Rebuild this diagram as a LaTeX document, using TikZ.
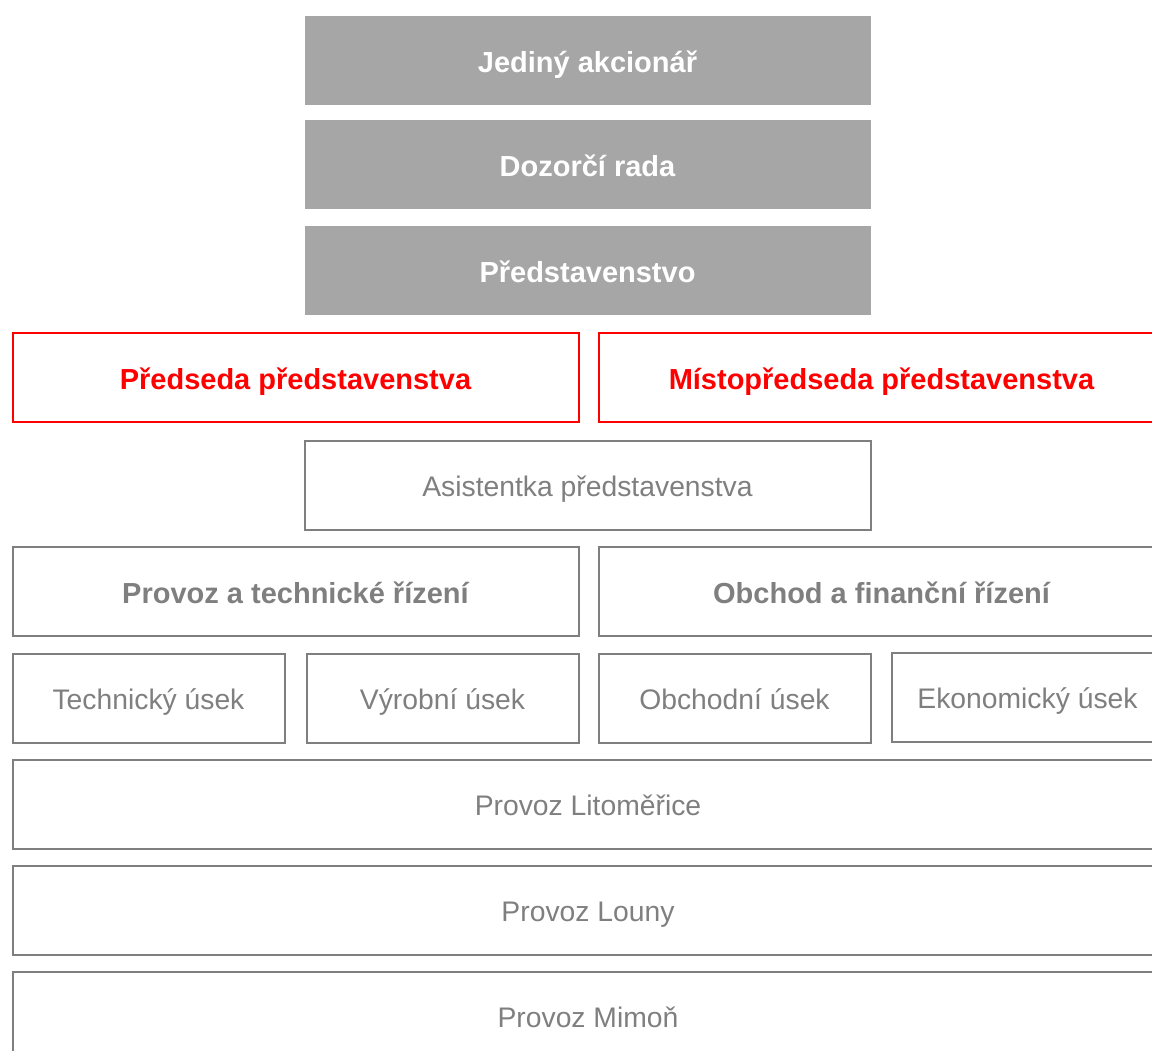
\documentclass[tikz,border=0pt]{standalone}
\usepackage{fontspec}
\setmainfont{Liberation Sans}
\definecolor{boardgray}{HTML}{A6A6A6}
\definecolor{linegray}{HTML}{7F7F7F}
\definecolor{textgray}{HTML}{7F7F7F}
\definecolor{chairred}{HTML}{FF0000}
\begin{document}
\begin{tikzpicture}[x=1pt,y=-1pt,
    box/.style={rectangle,inner sep=0pt,minimum height=89pt,line width=2pt,
        text height=28pt,text depth=5pt,font=\fontsize{28.3}{34}\selectfont},
    board/.style={box,fill=boardgray,text=white,font=\fontsize{29}{34}\selectfont\bfseries},
    chair/.style={box,draw=chairred,text=chairred,font=\fontsize{29}{34}\selectfont\bfseries},
    unit/.style={box,draw=linegray,text=textgray},
    division/.style={unit,font=\fontsize{29}{34}\selectfont\bfseries},
    wide/.style={minimum width=566pt},
    quarter/.style={minimum width=272pt},
    full/.style={minimum width=1151pt}]
    \useasboundingbox (0,0) rectangle (1152,1051);

    % Shareholder and boards
    \node[board,wide] (shareholder) at (587.5,61) {Jediný akcionář};
    \node[board,wide] (supervisory) at (587.5,165) {Dozorčí rada};
    \node[board,wide] (management) at (587.5,271) {Představenstvo};

    % Chairmen
    \node[chair,wide] (chairman) at (295.5,377.5) {Předseda představenstva};
    \node[chair,wide] (vicechairman) at (881.5,377.5) {Místopředseda představenstva};

    \node[unit,wide] (assistant) at (587.5,485) {Asistentka představenstva};

    % Divisions
    \node[division,wide] (operations) at (295.5,591.5) {Provoz a technické řízení};
    \node[division,wide] (finance) at (881.5,591.5) {Obchod a finanční řízení};

    % Sections
    \node[unit,quarter] (technical) at (148.5,698) {Technický úsek};
    \node[unit,quarter] (production) at (442.5,698) {Výrobní úsek};
    \node[unit,quarter] (sales) at (734.5,698) {Obchodní úsek};
    \node[unit,quarter] (economic) at (1027.5,697) {Ekonomický úsek};

    % Plants
    \node[unit,full] (litomerice) at (588,804) {Provoz Litoměřice};
    \node[unit,full] (louny) at (588,910) {Provoz Louny};
    \node[unit,full] (mimon) at (588,1016) {Provoz Mimoň};
\end{tikzpicture}
\end{document}
